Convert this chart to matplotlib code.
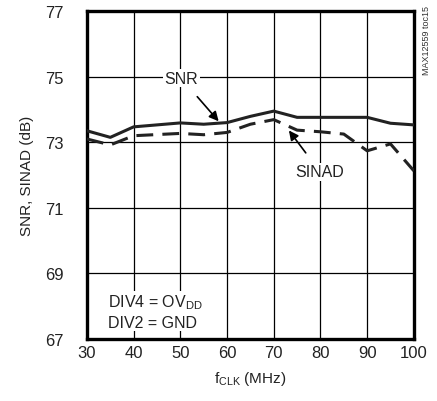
import matplotlib
matplotlib.use("Agg")
import matplotlib.pyplot as plt

# Data
freq = [30, 35, 40, 50, 55, 60, 65, 70, 75, 80, 85, 90, 95, 100]
snr = [73.35, 73.15, 73.47, 73.59, 73.55, 73.6, 73.79, 73.95, 73.76, 73.76, 73.76, 73.76, 73.58, 73.53]
sinad = [73.1, 72.92, 73.2, 73.27, 73.23, 73.3, 73.55, 73.69, 73.37, 73.32, 73.25, 72.74, 72.95, 72.13]
xticks = [30, 40, 50, 60, 70, 80, 90, 100]
yticks = [67, 69, 71, 73, 75, 77]

plt.rcParams['font.family'] = ['Liberation Sans', 'DejaVu Sans']
plt.rcParams['mathtext.fontset'] = 'custom'
plt.rcParams['mathtext.rm'] = 'Liberation Sans'
plt.rcParams['mathtext.it'] = 'Liberation Sans'

fig = plt.figure(figsize=(4.37, 4.02), dpi=100)
ax = fig.add_axes([0.199, 0.154, 0.748, 0.816])

ax.plot(freq, snr, color='#222222', lw=2.2, zorder=3)
ax.plot(freq, sinad, color='#222222', lw=2.2, dashes=(5.5, 3), zorder=3)

ax.set_xlim(30, 100)
ax.set_ylim(67, 77)
ax.set_xticks(xticks)
ax.set_yticks(yticks)
ax.tick_params(length=0, labelsize=12, colors='#222222')
ax.tick_params(axis='y', pad=17)
ax.tick_params(axis='x', pad=4)
ax.grid(True, color='black', lw=0.9)
for s in ax.spines.values():
    s.set_linewidth(2.4)

ax.set_ylabel('SNR, SINAD (dB)', fontsize=11, labelpad=8, color='#222222')
ax.set_xlabel(r'f$_{\mathrm{CLK}}$ (MHz)', fontsize=11, labelpad=7, color='#222222')

box = dict(facecolor='white', edgecolor='none', pad=1)
ax.annotate('SNR', xy=(58.2, 73.64), xytext=(50.2, 74.95),
            fontsize=11.5, ha='center', va='center', bbox=box, color='#222222',
            arrowprops=dict(arrowstyle='-|>', color='black', lw=1.2,
                            mutation_scale=14, shrinkA=9, shrinkB=0))
ax.annotate('SINAD', xy=(73.25, 73.36), xytext=(79.9, 72.1),
            fontsize=11.5, ha='center', va='center', bbox=box, color='#222222',
            arrowprops=dict(arrowstyle='-|>', color='black', lw=1.2,
                            mutation_scale=14, shrinkA=9, shrinkB=0))

ax.text(34.4, 68.13, r'DIV4 = OV$_{\mathrm{DD}}$', fontsize=11.5, va='center',
        bbox=box, color='#222222')
ax.text(34.4, 67.52, 'DIV2 = GND', fontsize=11.5, va='center',
        bbox=box, color='#222222')

fig.text(0.975, 0.985, 'MAX12559 toc15', rotation=90, fontsize=6.5,
         ha='center', va='top', color='#333333')

fig.savefig('out.png', dpi=100)
